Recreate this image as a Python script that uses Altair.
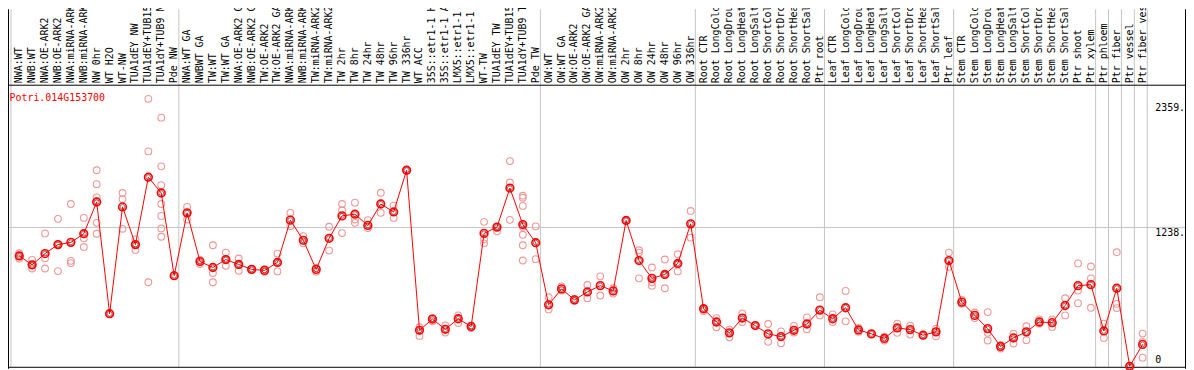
import altair as alt
import pandas as pd

gene = "Potri.014G153700"

labels = [
    "NWA:WT", "NWB:WT", "NWA:OE-ARK2", "NWB:OE-ARK2", "NWA:miRNA-ARK2", "NWB:miRNA-ARK2",
    "NW 0hr", "WT H2O", "WT-NW", "TUA1dEY NW", "TUA1dEY+TUB15 NW", "TUA1dY+TUB9 NW", "Pde NW",
    "NWA:WT GA", "NWBWT GA", "TW:WT", "TW:WT GA", "NWA:OE-ARK2 GA", "NWB:OE-ARK2 GA",
    "TW:OE-ARK2", "TW:OE-ARK2 GA", "NWA:miRNA-ARK2 GA", "NWB:miRNA-ARK2 GA", "TW:miRNA-ARK2",
    "TW:miRNA-ARK2 GA", "TW 2hr", "TW 8hr", "TW 24hr", "TW 48hr", "TW 96hr", "TW 336hr",
    "WT ACC", "35S::etr1-1 H2O", "35S::etr1-1 ACC", "LMX5::etr1-1 H2O", "LMX5::etr1-1 ACC",
    "WT-TW", "TUA1dEY TW", "TUA1dEY+TUB15 TW", "TUA1dY+TUB9 TW", "Pde TW",
    "OW:WT", "OW:WT GA", "OW:OE-ARK2", "OW:OE-ARK2 GA", "OW:miRNA-ARK2", "OW:miRNA-ARK2 GA",
    "OW 2hr", "OW 8hr", "OW 24hr", "OW 48hr", "OW 96hr", "OW 336hr",
    "Root CTR", "Root LongCold", "Root LongDrought", "Root LongHeat", "Root LongSalt",
    "Root ShortCold", "Root ShortDrought", "Root ShortHeat", "Root ShortSalt", "Ptr root",
    "Leaf CTR", "Leaf LongCold", "Leaf LongDrought", "Leaf LongHeat", "Leaf LongSalt",
    "Leaf ShortCold", "Leaf ShortDrought", "Leaf ShortHeat", "Leaf ShortSalt", "Ptr leaf",
    "Stem CTR", "Stem LongCold", "Stem LongDrought", "Stem LongHeat", "Stem LongSalt",
    "Stem ShortCold", "Stem ShortDrought", "Stem ShortHeat", "Stem ShortSalt", "Ptr shoot",
    "Ptr xylem", "Ptr phloem", "Ptr fiber", "Ptr vessel", "Ptr fiber vessel",
]

means = [
    984, 905, 1005, 1085, 1105, 1182, 1465, 469, 1421, 1085, 1686, 1545, 808,
    1368, 934, 881, 952, 908, 864, 855, 926, 1303, 1123, 864, 1141, 1341, 1356,
    1256, 1447, 1376, 1748, 321, 421, 330, 424, 354, 1185, 1241, 1589, 1264, 1102,
    548, 690, 592, 663, 719, 672, 1300, 943, 784, 819, 917, 1270,
    513, 395, 298, 430, 363, 289, 265, 321, 377, 501,
    424, 522, 324, 289, 248, 342, 327, 277, 307, 943,
    572, 454, 336, 177, 253, 307, 395, 389, 542, 719, 728,
    315, 696, 0, 195,
]

replicates = [
    [1008, 984, 961], [949, 902, 872], [1185, 964, 872], [1315, 1085, 849],
    [1447, 940, 920], [1323, 1141, 1064], [1748, 1624, 1506, 1279, 1182], [469],
    [1545, 1491, 1226], [1132, 1085, 1038], [2385, 1916, 749],
    [2217, 1783, 1615, 1447, 1341, 1229, 1155], [808],
    [1421, 1309], [949, 911], [1079, 831, 749], [1014, 949, 896], [961, 905, 852],
    [867, 861], [867, 843], [1005, 926, 846], [1368, 1250], [1161, 1096], [878, 843],
    [1244, 1032], [1447, 1391, 1188], [1459, 1309, 1279], [1303, 1232], [1547, 1368],
    [1432, 1323], [1748], [348, 271], [430, 401], [365, 301], [454, 386], [365, 342],
    [1288, 1132, 1096], [1241, 1203], [1830, 1639, 1306],
    [1521, 1503, 1430, 1244, 1173, 1079, 943], [1247, 955],
    [616, 507], [713, 675], [601, 584], [725, 607], [802, 631], [696, 648], [1300],
    [1035, 1014, 784], [881, 749, 719], [952, 816, 696], [999, 911, 846], [1385, 1147],
    [513, 492], [430, 348], [327, 259], [472, 395], [363], [377, 218], [312, 206],
    [360, 301], [436, 330], [616, 454],
    [463, 395], [672, 401], [342, 307], [289], [230, 265], [380, 298], [363, 283],
    [277], [336, 268], [1014, 887],
    [592, 557], [430, 480], [483, 298, 230], [159, 189], [292, 203], [357, 233],
    [419, 380], [419, 351], [607, 454], [917, 675, 563], [890, 784, 522],
    [380, 253], [1017, 557, 519], [0], [292, 218, 77],
]

group_ends = [0, 13, 41, 53, 63, 73, 84, 85, 86, 87, 88]
grid_values = [1238]
tick_top_values = [2359, 1238]
tick_top_labels = ["2359.", "1238."]
tick_bottom_values = [0]
tick_bottom_labels = ["0"]

idx = list(range(1, len(means) + 1))
mean_df = pd.DataFrame({"i": idx, "v": means, "label": labels})
rep_df = pd.DataFrame([(i, v) for i, reps in zip(idx, replicates) for v in reps], columns=["i", "v"])
groups_df = pd.DataFrame({"g": group_ends})
grid_df = pd.DataFrame({"v": grid_values})
ttop_df = pd.DataFrame({"v": tick_top_values, "t": tick_top_labels})
tbot_df = pd.DataFrame({"v": tick_bottom_values, "t": tick_bottom_labels})
title_df = pd.DataFrame({"t": [gene]})

W, H = 1186, 362
XS = alt.Scale(domain=[1, 88], range=[11.3, 1142.3])
YS = alt.Scale(domain=[0, 2500], range=[359.5, 77.2])
FONT = "DejaVu Sans Mono"

vlines = alt.Chart(groups_df).mark_rule(color="#c4c4c4", strokeWidth=1, xOffset=4.7).encode(
    x=alt.X("g:Q", scale=XS, axis=None), y=alt.value(0), y2=alt.value(360)
)
hgrid = alt.Chart(grid_df).mark_rule(color="#c4c4c4", strokeWidth=1).encode(
    y=alt.Y("v:Q", scale=YS, axis=None), x=alt.value(0), x2=alt.value(1185)
)
frame_df = pd.DataFrame({"k": [0]})
header_line = alt.Chart(frame_df).mark_rule(color="black", strokeWidth=1).encode(
    y=alt.value(76.5), x=alt.value(0), x2=alt.value(1186)
)
bottom_line = alt.Chart(frame_df).mark_rule(color="black", strokeWidth=1).encode(
    y=alt.value(360.5), x=alt.value(0), x2=alt.value(1186)
)
right_line = alt.Chart(frame_df).mark_rule(color="black", strokeWidth=1).encode(
    x=alt.value(1185.5), y=alt.value(0), y2=alt.value(362)
)
left_line = alt.Chart(frame_df).mark_rule(color="black", strokeWidth=1).encode(
    x=alt.value(0.5), y=alt.value(0), y2=alt.value(362)
)

header = alt.Chart(mean_df).mark_text(
    angle=270, align="left", baseline="middle", font=FONT, fontSize=10, color="black"
).encode(x=alt.X("i:Q", scale=XS, axis=None), y=alt.value(74.5), text="label:N")

title = alt.Chart(title_df).mark_text(
    align="left", baseline="middle", font=FONT, fontSize=10, color="#ff0000"
).encode(x=alt.value(1.5), y=alt.value(89), text="t:N")

ttop = alt.Chart(ttop_df).mark_text(
    align="left", baseline="top", font=FONT, fontSize=10, color="black", dy=1
).encode(x=alt.value(1155), y=alt.Y("v:Q", scale=YS, axis=None), text="t:N")
tbot = alt.Chart(tbot_df).mark_text(
    align="left", baseline="bottom", font=FONT, fontSize=10, color="black", dy=-1
).encode(x=alt.value(1155), y=alt.Y("v:Q", scale=YS, axis=None), text="t:N")

reps = alt.Chart(rep_df).mark_point(
    shape="circle", filled=False, color="#f09898", size=46, strokeWidth=1.1, opacity=1
).encode(x=alt.X("i:Q", scale=XS, axis=None), y=alt.Y("v:Q", scale=YS, axis=None))

line = alt.Chart(mean_df).mark_line(color="#ff0000", strokeWidth=1).encode(
    x=alt.X("i:Q", scale=XS, axis=None), y=alt.Y("v:Q", scale=YS, axis=None)
)
mean_pts = alt.Chart(mean_df).mark_point(
    shape="circle", filled=False, color="#ff0000", size=60, strokeWidth=1.6, opacity=1
).encode(x=alt.X("i:Q", scale=XS, axis=None), y=alt.Y("v:Q", scale=YS, axis=None))
mean_inner = alt.Chart(mean_df).mark_point(
    shape="circle", filled=False, color="#700000", size=24, strokeWidth=0.6, opacity=1
).encode(x=alt.X("i:Q", scale=XS, axis=None), y=alt.Y("v:Q", scale=YS, axis=None))

chart = alt.layer(
    vlines, hgrid, header_line, bottom_line, right_line, left_line,
    header, title, ttop, tbot, reps, line, mean_pts, mean_inner
).properties(
    width=W, height=H, autosize=alt.AutoSizeParams(type="none"), padding=0, background="white"
).configure_view(strokeOpacity=0)

chart.save("out.html", embed_options={"renderer": "svg", "actions": False})
